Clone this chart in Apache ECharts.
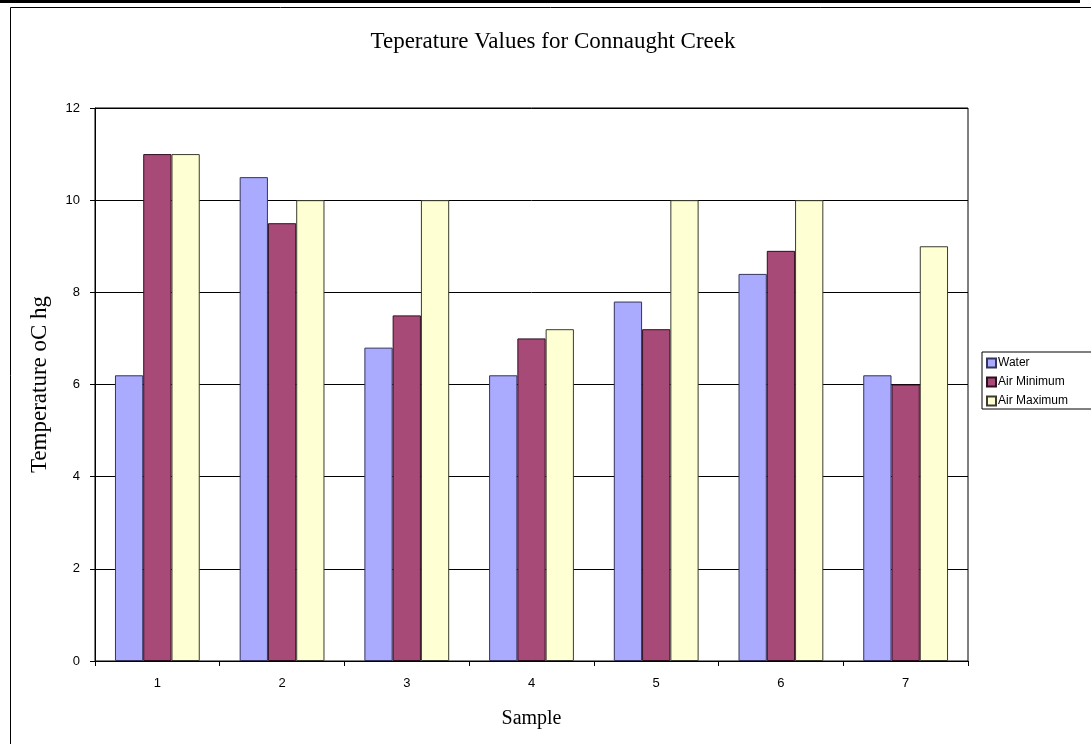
<!DOCTYPE html>
<html>
<head>
<meta charset="utf-8">
<style>
  html, body { margin: 0; padding: 0; background: #fff; }
  #chart { width: 1091px; height: 744px; }
</style>
<script src="https://cdn.jsdelivr.net/npm/echarts@6/dist/echarts.min.js"></script>
</head>
<body>
<div id="chart"></div>
<script>
// Samples along Connaught Creek
const samples = ['1', '2', '3', '4', '5', '6', '7'];
// Temperatures (oC) per sample
const water = [6.2, 10.5, 6.8, 6.2, 7.8, 8.4, 6.2];
const airMinimum = [11, 9.5, 7.5, 7, 7.2, 8.9, 6];
const airMaximum = [11, 10, 10, 7.2, 10, 10, 9];
const yTicks = [0, 2, 4, 6, 8, 10, 12];

const chart = echarts.init(document.getElementById('chart'), null, { renderer: 'canvas' });

const sansFont = '"Liberation Sans", Arial, sans-serif';
const serifFont = '"Liberation Serif", "Times New Roman", serif';

function barSeries(name, data, fill, edge) {
  return {
    name: name,
    type: 'bar',
    data: data,
    barGap: '0%',
    barCategoryGap: '32%',
    itemStyle: { color: fill, borderColor: edge, borderWidth: 1 },
    emphasis: { disabled: true }
  };
}

chart.setOption({
  animation: false,
  backgroundColor: '#ffffff',
  title: {
    text: 'Teperature Values for Connaught Creek',
    left: 548,
    top: 25,
    textAlign: 'center',
    textStyle: { fontFamily: serifFont, fontSize: 23, fontWeight: 'normal', color: '#000' }
  },
  legend: {
    orient: 'vertical',
    left: 982,
    top: 352,
    padding: [5, 30, 2, 4],
    itemGap: 7,
    itemWidth: 9,
    itemHeight: 9,
    borderColor: '#000',
    borderWidth: 1,
    icon: 'rect',
    textStyle: { fontFamily: sansFont, fontSize: 12, color: '#000', padding: [0, 0, 0, -3] },
    data: ['Water', 'Air Minimum', 'Air Maximum']
  },
  grid: {
    left: 95,
    right: 123,
    top: 108,
    bottom: 83,
    show: true,
    borderColor: '#000',
    borderWidth: 1,
    backgroundColor: '#fff'
  },
  xAxis: {
    type: 'category',
    data: samples,
    name: 'Sample',
    nameLocation: 'middle',
    nameGap: 48,
    nameTextStyle: { fontFamily: serifFont, fontSize: 20, color: '#000' },
    axisLine: { lineStyle: { color: '#000', width: 1 } },
    axisTick: { show: true, alignWithLabel: false, inside: false, length: 5, lineStyle: { color: '#000' } },
    axisLabel: { fontFamily: sansFont, fontSize: 13, color: '#000', margin: 16 },
    splitLine: { show: false }
  },
  yAxis: {
    type: 'value',
    min: yTicks[0],
    max: yTicks[yTicks.length - 1],
    interval: 2,
    name: 'Temperature oC hg',
    nameLocation: 'middle',
    nameGap: 44,
    nameTextStyle: { fontFamily: serifFont, fontSize: 23, color: '#000' },
    axisLine: { show: true, lineStyle: { color: '#000', width: 1 } },
    axisTick: { show: true, inside: false, length: 5, lineStyle: { color: '#000' } },
    axisLabel: { fontFamily: sansFont, fontSize: 13, color: '#000', margin: 15 },
    splitLine: { show: true, lineStyle: { color: '#000', width: 1 } }
  },
  graphic: [
    // heavy rule across the top of the page
    { type: 'rect', shape: { x: 0, y: 0, width: 1080, height: 3 }, style: { fill: '#000' }, silent: true },
    // thin frame around the chart area
    { type: 'polyline', shape: { points: [[10.5, 744], [10.5, 7.5], [1091, 7.5]] }, style: { stroke: '#000', lineWidth: 1, fill: null }, silent: true }
  ],
  series: [
    barSeries('Water', water, '#aaaaff', '#34345e'),
    barSeries('Air Minimum', airMinimum, '#a84a77', '#2e0f20'),
    barSeries('Air Maximum', airMaximum, '#ffffd4', '#3a3a2e')
  ]
});
</script>
</body>
</html>
